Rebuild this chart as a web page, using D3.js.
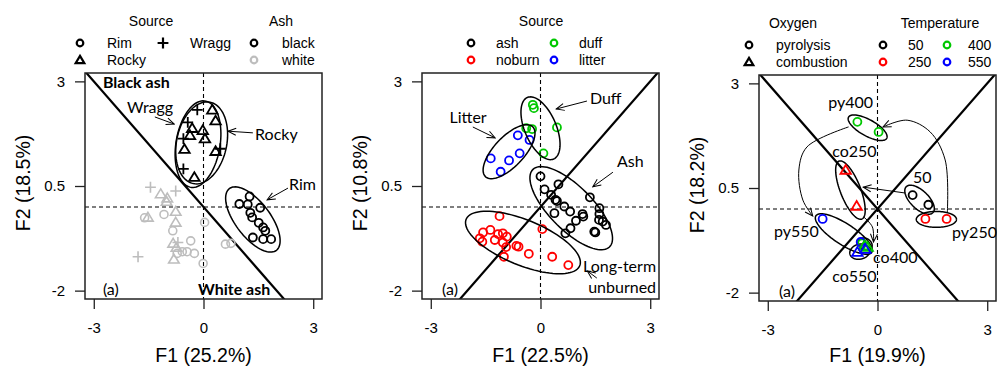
<!DOCTYPE html>
<html>
<head>
<meta charset="utf-8">
<script src="https://cdn.jsdelivr.net/npm/d3@7"></script>
<style>
  body { margin: 0; background: #fff; }
  svg { display: block; }
</style>
</head>
<body>
<svg id="chart" width="997" height="366"></svg>
<script>
// ---- data (F1, F2 scores) ----
const xTicks = [-3, 0, 3]
const yTicks = [-2, 0.5, 3]
const xTitles = ['F1 (25.2%)', 'F1 (22.5%)', 'F1 (19.9%)']
const yTitles = ['F2 (18.5%)', 'F2 (10.8%)', 'F2 (18.2%)']

// panel 1 : source x ash colour
const rimBlack = [[1.26, 0.25], [0.98, 0.07], [1.21, 0.06], [1.55, -0.02], [1.28, -0.14], [1.33, -0.25],
  [1.51, -0.38], [1.63, -0.49], [1.69, -0.57], [1.35, -0.73], [1.63, -0.77], [1.85, -0.77]]
const rockyBlack = [[0.24, 2.32], [0.33, 2.06], [-0.31, 1.88], [-0.37, 1.71], [-0.02, 1.83], [0.04, 1.63],
  [-0.52, 1.38], [0.33, 1.33], [-0.25, 0.71]]
const wraggBlack = [[-0.17, 2.32], [-0.43, 2.02], [-0.55, 1.63], [-0.55, 0.91], [0.46, 1.39]]
const rimWhite = [[-1.61, -0.26], [-1.08, -0.18], [-0.84, -0.57], [-0.35, -0.81], [0.03, -0.37], [-0.58, -1.07],
  [-0.45, -1.07], [-0.25, -1.11], [0.60, -0.89], [0.75, -0.87], [-0.01, -1.35], [-0.72, -1.11]]
const rockyWhite = [[-1.17, 0.31], [-0.99, 0.21], [-1.01, 0.13], [-0.76, -0.11], [-1.52, -0.25], [-0.76, -0.37],
  [-0.83, -0.87], [-0.74, -0.97], [-0.81, -1.25]]
const wraggWhite = [[-1.45, 0.47], [-0.76, 0.38], [-1.79, -1.19], [-0.70, -0.85]]
// ellipses: centre x, centre y, semi-major, semi-minor, angle (deg)
const p1Ellipses = [[-0.15, 1.5, 1.05, 0.6, 78], [-0.05, 1.53, 1.0, 0.68, 74], [1.35, -0.3, 0.98, 0.45, -47]]

// panel 2 : source
const ashPts = [[0, 0.73], [0.49, 0.54], [0.11, 0.42], [0.29, 0.29], [0.41, 0.17], [1.35, 0.23], [0.65, 0.01],
  [0.81, -0.11], [0.38, -0.15], [1.15, -0.17], [1.61, -0.03], [1.61, -0.17], [1.60, -0.31], [1.70, -0.35],
  [1.79, -0.43], [0.97, -0.33], [0.82, -0.51], [0.68, -0.63], [1.47, -0.59], [1.50, -0.61], [1.17, -0.23], [0.45, 0.14]]
const noburnPts = [[-1.12, -0.22], [-1.37, -0.55], [-1.57, -0.61], [-1.66, -0.75], [-1.59, -0.83], [-1.16, -0.65],
  [-1.03, -0.63], [-1.25, -0.79], [-1.03, -0.85], [-0.92, -0.71], [-0.94, -0.96], [-0.66, -0.93], [-0.60, -0.95],
  [-1.00, -1.19], [-0.32, -1.12], [0.05, -0.53], [0.32, -1.19], [0.76, -1.39]]
const duffPts = [[-0.21, 2.44], [-0.18, 2.36], [-0.39, 1.88], [-0.23, 1.86], [0.45, 1.90], [0.08, 1.28]]
const litterPts = [[-0.62, 1.71], [-0.30, 1.60], [-0.57, 1.28], [-0.86, 1.11], [-1.36, 1.16], [-1.09, 0.84]]
const p2Ellipses = [[0, 1.88, 0.82, 0.42, -62], [-0.86, 1.32, 0.88, 0.38, 41], [0.84, -0.03, 1.4, 0.55, -40],
  [-0.48, -0.85, 1.65, 0.55, -19]]

// panel 3 : oxygen x temperature
const py50 = [[0.96, 0.33], [1.39, 0.10]]
const py250 = [[1.31, -0.24], [1.89, -0.24]]
const py400 = [[-0.55, 2.08], [0.03, 1.84], [-0.42, -0.82]]
const py550 = [[-1.50, -0.24], [-0.46, -0.79]]
const co250 = [[-0.87, 0.93], [-0.57, 0.07]]
const co400 = [[-0.27, -0.91], [-0.36, -0.88]]
const co550 = [[-0.55, -1.03], [-0.33, -0.96]]
const p3Ellipses = [[-0.27, 1.94, 0.58, 0.2, -25], [-0.74, 0.45, 0.76, 0.27, -65], [1.15, 0.22, 0.48, 0.23, -38],
  [1.61, -0.25, 0.55, 0.19, 0], [-0.92, -0.6, 0.88, 0.26, -29], [-0.34, -0.84, 0.2, 0.14, -20],
  [-0.48, -1.02, 0.28, 0.18, 10]]

// ---- layout ----
const svg = d3.select('#chart')
const W = 237, H = 226
const lefts = [85, 422, 759], tops = [73, 73, 75]
const GREY = '#bdbdbd', RED = '#ff0000', GREEN = '#00c800', BLUE = '#0000ff'
const AXIS_FONT = 'Liberation Sans, Arial, sans-serif'
const NOTE_FONT = 'Lato, Open Sans, sans-serif'

svg.append('defs').append('marker')
  .attr('id', 'arr')
  .attr('viewBox', '-1 -5 10 10')
  .attr('markerWidth', 10).attr('markerHeight', 10)
  .attr('markerUnits', 'userSpaceOnUse')
  .attr('refX', 8).attr('refY', 0)
  .attr('orient', 'auto')
  .append('path')
    .attr('d', 'M0,-3.5L8,0L0,3.5')
    .attr('fill', 'none').attr('stroke', '#000').attr('stroke-width', 1)

function ellipsePts(e) {
  const [cx, cy, a, b, ang] = e
  const t = ang * Math.PI / 180
  return d3.range(0, 361, 4).map(deg => {
    const u = deg * Math.PI / 180
    return [cx + a * Math.cos(u) * Math.cos(t) - b * Math.sin(u) * Math.sin(t),
            cy + a * Math.cos(u) * Math.sin(t) + b * Math.sin(u) * Math.cos(t)]
  })
}

function symbol(sel, shape, px, py, color, s, sw) {
  if (shape === 'circle') {
    sel.append('circle').attr('cx', px).attr('cy', py).attr('r', s)
      .attr('fill', 'none').attr('stroke', color).attr('stroke-width', sw)
  } else if (shape === 'tri') {
    const h = s * 1.25
    sel.append('path')
      .attr('d', `M${px},${py - h}L${px + h * 1.05},${py + h * 0.75}L${px - h * 1.05},${py + h * 0.75}Z`)
      .attr('fill', 'none').attr('stroke', color).attr('stroke-width', sw).attr('stroke-linejoin', 'miter')
  } else {
    const h = s * 1.35
    sel.append('path').attr('d', `M${px - h},${py}H${px + h}M${px},${py - h}V${py + h}`)
      .attr('stroke', color).attr('stroke-width', sw)
  }
}

function makePanel(k, diagonals) {
  const L = lefts[k], T = tops[k]
  const x = d3.scaleLinear().domain([-3.24, 3.24]).range([L, L + W])
  const y = d3.scaleLinear().domain([-2.2, 3.2]).range([T + H, T])
  const g = svg.append('g')
  svg.select('defs').append('clipPath').attr('id', 'clip' + k)
    .append('rect').attr('x', L).attr('y', T).attr('width', W).attr('height', H)
  const inner = g.append('g').attr('clip-path', `url(#clip${k})`)

  inner.append('line').attr('x1', x(0)).attr('x2', x(0)).attr('y1', T).attr('y2', T + H)
    .attr('stroke', '#000').attr('stroke-width', 1.1).attr('stroke-dasharray', '4,3')
  inner.append('line').attr('x1', L).attr('x2', L + W).attr('y1', y(0)).attr('y2', y(0))
    .attr('stroke', '#000').attr('stroke-width', 1.1).attr('stroke-dasharray', '4,3')
  diagonals.forEach(sgn => {
    inner.append('line')
      .attr('x1', x(-3.5)).attr('y1', y(-3.5 * sgn)).attr('x2', x(3.5)).attr('y2', y(3.5 * sgn))
      .attr('stroke', '#000').attr('stroke-width', 2.2)
  })

  g.append('rect').attr('x', L).attr('y', T).attr('width', W).attr('height', H)
    .attr('fill', 'none').attr('stroke', '#222').attr('stroke-width', 1.5)

  const styleAxis = a => {
    a.select('.domain').remove()
    a.selectAll('.tick line').attr('stroke', '#222').attr('stroke-width', 1.3)
    a.selectAll('.tick text').attr('font-family', AXIS_FONT).attr('font-size', 15).attr('fill', '#000')
  }
  g.append('g').attr('transform', `translate(0,${T + H})`)
    .call(d3.axisBottom(x).tickValues(xTicks).tickSize(10).tickPadding(13).tickFormat(d => String(d)))
    .call(styleAxis)
  g.append('g').attr('transform', `translate(${L},0)`)
    .call(d3.axisLeft(y).tickValues(yTicks).tickSize(10).tickPadding(10).tickFormat(d => String(d)))
    .call(styleAxis)

  g.append('text').attr('x', x(0)).attr('y', 362).attr('text-anchor', 'middle')
    .attr('font-family', AXIS_FONT).attr('font-size', 19.5).text(xTitles[k])
  g.append('text').attr('transform', `translate(${L - 55},${T + H / 2 - 3}) rotate(-90)`)
    .attr('text-anchor', 'middle').attr('font-family', AXIS_FONT).attr('font-size', 19.5).text(yTitles[k])

  const line = d3.line().x(d => x(d[0])).y(d => y(d[1]))
  const curve = d3.line().x(d => x(d[0])).y(d => y(d[1])).curve(d3.curveCatmullRom.alpha(0.5))

  const api = {
    points(data, shape, color, s, sw) {
      data.forEach(d => symbol(inner, shape, x(d[0]), y(d[1]), color, s, sw))
    },
    ellipses(list) {
      list.forEach(e => inner.append('path').attr('d', line(ellipsePts(e)))
        .attr('fill', 'none').attr('stroke', '#000').attr('stroke-width', 1.5))
    },
    note(txt, dx, dy, anchor, bold) {
      g.append('text').attr('x', x(dx)).attr('y', y(dy)).attr('text-anchor', anchor || 'start')
        .attr('font-family', NOTE_FONT).attr('font-size', 16)
        .attr('font-weight', bold ? 'bold' : 'normal').text(txt)
    },
    arrow(pts) {
      g.append('path').attr('d', pts.length > 2 ? curve(pts) : line(pts))
        .attr('fill', 'none').attr('stroke', '#000').attr('stroke-width', 1)
        .attr('marker-end', 'url(#arr)')
    },
    legendTitle(txt, px, py) {
      g.append('text').attr('x', px).attr('y', py).attr('text-anchor', 'middle')
        .attr('font-family', AXIS_FONT).attr('font-size', 14).text(txt)
    },
    legendItem(shape, color, px, py, txt, tx) {
      symbol(g, shape, px, py, color, shape === 'plus' ? 4 : 3.3, 2.2)
      g.append('text').attr('x', tx).attr('y', py + 5).attr('font-family', AXIS_FONT)
        .attr('font-size', 14).text(txt)
    }
  }
  return api
}

// ---- panel 1 ----
const p1 = makePanel(0, [-1])
p1.points(rimWhite, 'circle', GREY, 4, 1.6)
p1.points(rockyWhite, 'tri', GREY, 4, 1.6)
p1.points(wraggWhite, 'plus', GREY, 4, 1.6)
p1.points(rimBlack, 'circle', '#000', 4, 1.8)
p1.points(rockyBlack, 'tri', '#000', 4, 1.8)
p1.points(wraggBlack, 'plus', '#000', 4, 1.8)
p1.ellipses(p1Ellipses)
p1.note('Black ash', -2.75, 2.84, 'start', true)
p1.note('White ash', -0.15, -2.1, 'start', true)
p1.note('(a)', -2.75, -2.1)
p1.note('Wragg', -1.46, 2.24, 'middle')
p1.arrow([[-1.33, 2.15], [-0.8, 1.98]])
p1.note('Rocky', 1.41, 1.6)
p1.arrow([[1.35, 1.77], [0.67, 1.81]])
p1.note('Rim', 2.34, 0.4)
p1.arrow([[2.31, 0.45], [1.74, 0.17]])
p1.legendTitle('Source', 151, 26)
p1.legendTitle('Ash', 281, 26)
p1.legendItem('circle', '#000', 80, 43, 'Rim', 107)
p1.legendItem('tri', '#000', 80, 60, 'Rocky', 107)
p1.legendItem('plus', '#000', 163, 43, 'Wragg', 190)
p1.legendItem('circle', '#000', 254, 43, 'black', 282)
p1.legendItem('circle', GREY, 254, 60, 'white', 282)

// ---- panel 2 ----
const p2 = makePanel(1, [1])
p2.points(ashPts, 'circle', '#000', 4, 1.8)
p2.points(noburnPts, 'circle', RED, 4, 1.8)
p2.points(duffPts, 'circle', GREEN, 4, 1.8)
p2.points(litterPts, 'circle', BLUE, 4, 1.8)
p2.ellipses(p2Ellipses)
p2.note('Duff', 1.35, 2.46)
p2.arrow([[1.27, 2.53], [0.43, 2.34]])
p2.note('Litter', -1.98, 2.01, 'middle')
p2.arrow([[-1.85, 1.91], [-1.24, 1.65]])
p2.note('Ash', 2.09, 0.95)
p2.arrow([[1.98, 0.83], [1.43, 0.48]])
p2.note('Long-term', 3.16, -1.55, 'end')
p2.note('unburned', 3.16, -2.06, 'end')
p2.arrow([[1.54, -1.7], [1.28, -1.53]])
p2.note('(a)', -2.69, -2.1)
p2.legendTitle('Source', 541, 26)
p2.legendItem('circle', '#000', 471, 43, 'ash', 496)
p2.legendItem('circle', RED, 471, 60, 'noburn', 496)
p2.legendItem('circle', GREEN, 554, 43, 'duff', 579)
p2.legendItem('circle', BLUE, 554, 60, 'litter', 579)

// ---- panel 3 ----
const p3 = makePanel(2, [1, -1])
p3.ellipses(p3Ellipses)
p3.points(py50, 'circle', '#000', 4, 1.8)
p3.points(py250, 'circle', RED, 4, 1.8)
p3.points(py400, 'circle', GREEN, 4, 1.8)
p3.points(py550, 'circle', BLUE, 4, 1.8)
p3.points(co250, 'tri', RED, 4, 1.8)
p3.points(co400, 'tri', GREEN, 4, 1.8)
p3.points(co550, 'tri', BLUE, 4, 1.8)
p3.arrow([[-0.79, 1.96], [-1.93, 1.48], [-2.15, 0.93], [-2.04, 0.21], [-1.77, -0.17]])
p3.arrow([[1.91, -0.08], [1.85, 1.17], [1.44, 1.84], [0.81, 2.12], [0.15, 1.96]])
p3.arrow([[0.76, 0.38], [-0.39, 0.52]])
p3.arrow([[-0.38, -0.19], [-0.14, -0.43], [-0.11, -0.79]])
p3.note('py400', -1.35, 2.41)
p3.note('co250', -1.24, 1.24)
p3.note('50', 0.97, 0.62)
p3.note('py550', -2.83, -0.67)
p3.note('py250', 2.04, -0.69)
p3.note('co400', -0.12, -1.29)
p3.note('co550', -1.24, -1.75)
p3.note('(a)', -2.69, -2.1)
p3.legendTitle('Oxygen', 793, 28)
p3.legendTitle('Temperature', 940, 28)
p3.legendItem('circle', '#000', 749, 45, 'pyrolysis', 776)
p3.legendItem('tri', '#000', 749, 62, 'combustion', 776)
p3.legendItem('circle', '#000', 883, 45, '50', 908)
p3.legendItem('circle', RED, 883, 62, '250', 908)
p3.legendItem('circle', GREEN, 947, 45, '400', 968)
p3.legendItem('circle', BLUE, 947, 62, '550', 968)
</script>
</body>
</html>
